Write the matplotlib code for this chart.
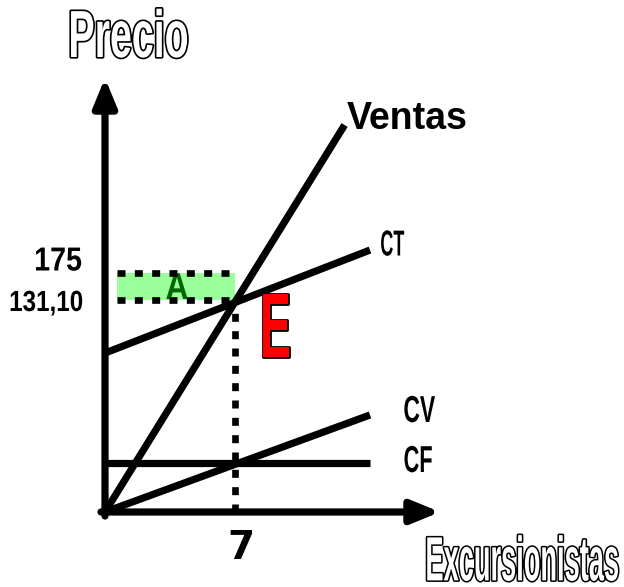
import matplotlib.pyplot as plt
import matplotlib.patheffects as pe
from matplotlib.patches import Rectangle
from matplotlib.path import Path
from matplotlib.transforms import Affine2D

# datos del punto de equilibrio (esquema)
x_eq = 7
y_eq = 131.10
y_top = 147.8

ventas_x = [0, 12.9]
ventas_y = [0, 239.3]
ct_x = [0, 14.27]
ct_y = [98.3, 162.0]
cv_x = [0, 14.27]
cv_y = [0, 60.0]
cf_x = [0, 14.27]
cf_y = [30.3, 30.3]

rect_x0 = 0.65

# escala en pixeles: origen en (105, 512)
PX_X = 130 / 7
PX_Y = 212 / 131.10


def px(x, y):
    return (x - 105) / PX_X, (512 - y) / PX_Y


class Squeeze(pe.AbstractPathEffect):
    """Escala el texto (letra condensada) alrededor de su centro, con borde opcional."""

    def __init__(self, sx, edge=None, edge_lw=0, sy=1.0):
        super().__init__()
        self.sx = sx
        self.sy = sy
        self.edge = edge
        self.edge_lw = edge_lw

    def draw_path(self, renderer, gc, tpath, affine, rgbFace=None):
        verts = tpath.vertices
        if tpath.codes is not None:
            verts = verts[tpath.codes != Path.CLOSEPOLY]
        v = affine.transform(verts)
        cx = (v[:, 0].min() + v[:, 0].max()) / 2
        cy = (v[:, 1].min() + v[:, 1].max()) / 2
        aff = affine + Affine2D().translate(-cx, -cy).scale(self.sx, self.sy).translate(cx, cy)
        if self.edge is not None:
            gc0 = renderer.new_gc()
            gc0.copy_properties(gc)
            gc0.set_foreground(self.edge)
            gc0.set_linewidth(self.edge_lw)
            gc0.set_joinstyle('round')
            renderer.draw_path(gc0, tpath, aff, rgbFace)
            gc0.restore()
        renderer.draw_path(gc, tpath, aff, rgbFace)


fig = plt.figure(figsize=(6.24, 5.87), dpi=100)
ax = fig.add_axes([0, 0, 1, 1])
x0, y0 = px(0, 587)
x1, y1 = px(624, 0)
ax.set_xlim(x0, x1)
ax.set_ylim(y0, y1)
ax.axis('off')

lw = 5.2
font = 'Liberation Sans'
dots = dict(color='black', lw=4.8, dashes=(1.2, 1.4), dash_capstyle='butt', zorder=5)

# rectangulo verde
ax.add_patch(Rectangle((rect_x0, y_eq), x_eq - rect_x0, y_top - y_eq,
                       facecolor='#99ff99', edgecolor='none', zorder=1))
ax.plot([rect_x0, x_eq], [y_top, y_top], **dots)
ax.plot([rect_x0, x_eq], [y_eq, y_eq], **dots)

# linea punteada vertical
ax.plot([x_eq, x_eq], [0, y_eq], **dots)

# rectas
ax.plot(ventas_x, ventas_y, color='black', lw=lw, solid_capstyle='butt', zorder=3)
ax.plot(ct_x, ct_y, color='black', lw=lw, solid_capstyle='butt', zorder=3)
ax.plot(cv_x, cv_y, color='black', lw=lw, solid_capstyle='butt', zorder=3)
ax.plot(cf_x, cf_y, color='black', lw=lw, solid_capstyle='butt', zorder=3)

# ejes con flechas
head = '-|>,head_length=1.7,head_width=0.7'
ax.annotate('', xy=px(105, 78), xytext=px(105, 516),
            arrowprops=dict(arrowstyle=head, lw=lw, color='black',
                            shrinkA=0, shrinkB=0))
ax.annotate('', xy=px(440, 512), xytext=px(101, 512),
            arrowprops=dict(arrowstyle=head, lw=lw, color='black',
                            shrinkA=0, shrinkB=0))

# titulos huecos
ax.text(*px(128, 40), 'Precio', fontsize=48, family=font, weight='bold',
        color='white', ha='center', va='center',
        path_effects=[Squeeze(0.59, 'black', 2.4)])
ax.text(*px(522, 561), 'Excursionistas', fontsize=20, family=font,
        weight='bold', color='white', ha='center', va='center',
        path_effects=[Squeeze(0.98, 'black', 2.2, sy=2.25)])

ax.text(*px(407, 119), 'Ventas', fontsize=27, family=font,
        weight='bold', ha='center', va='center')
ax.text(*px(392, 246), 'CT', fontsize=26, family=font, weight='bold',
        ha='center', va='center', path_effects=[Squeeze(0.5)])
ax.text(*px(419, 412), 'CV', fontsize=27, family=font, weight='bold',
        ha='center', va='center', path_effects=[Squeeze(0.61)])
ax.text(*px(418, 462), 'CF', fontsize=27, family=font, weight='bold',
        ha='center', va='center', path_effects=[Squeeze(0.58)])

ax.text(*px(58, 262), '175', fontsize=24, family=font,
        weight='bold', ha='center', va='center', path_effects=[Squeeze(0.86)])
ax.text(*px(46, 303), '131,10', fontsize=21, family=font,
        weight='bold', ha='center', va='center', path_effects=[Squeeze(0.83)])
ax.text(*px(241, 548), '7', fontsize=28, family='DejaVu Sans',
        weight='heavy', ha='center', va='center')

ax.text(*px(275, 333), 'E', fontsize=66, family=font, weight='bold',
        color='#ff0000', ha='center', va='center',
        path_effects=[Squeeze(0.5, 'black', 2)])
ax.text(*px(177, 289), 'A', fontsize=27, family=font, weight='bold',
        color='#006600', ha='center', va='center', zorder=4,
        path_effects=[Squeeze(0.85)])

fig.savefig('out.png', dpi=100)
